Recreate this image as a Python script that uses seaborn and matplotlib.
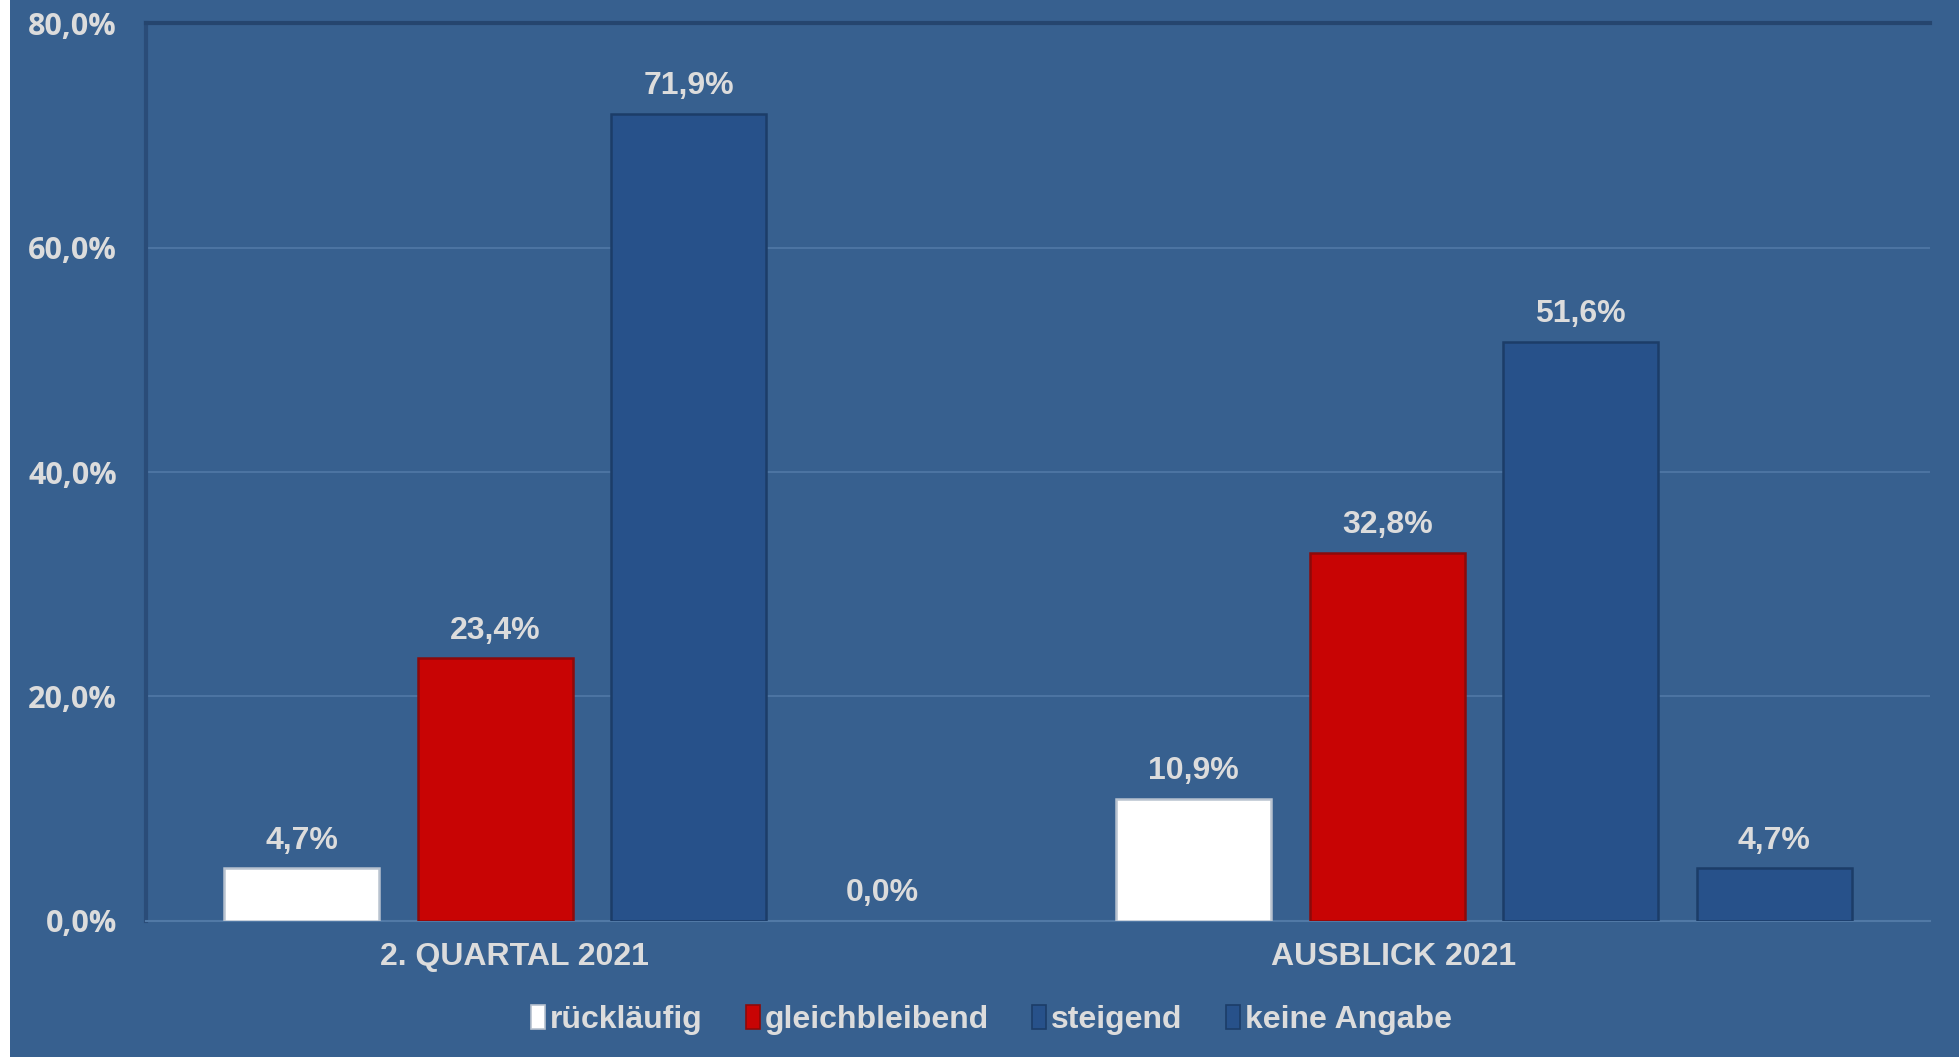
import matplotlib
matplotlib.use("Agg")
import matplotlib.pyplot as plt
import matplotlib.transforms as mtransforms
from matplotlib.patches import Rectangle
import seaborn as sns
import pandas as pd

# ---- data ----
categories = ["2. QUARTAL 2021", "AUSBLICK 2021"]
series = ["rückläufig", "gleichbleibend", "steigend", "keine Angabe"]
values_q2 = [4.7, 23.4, 71.9, 0.0]
values_outlook = [10.9, 32.8, 51.6, 4.7]
y_ticks = [0, 20, 40, 60, 80]

rows = []
for cat, vals in zip(categories, [values_q2, values_outlook]):
    for s, v in zip(series, vals):
        rows.append({"Kategorie": cat, "Serie": s, "Wert": v})
df = pd.DataFrame(rows)

BG = "#37608f"
TXT = "#dcdcdc"
palette = {"rückläufig": "#ffffff", "gleichbleibend": "#c80404",
           "steigend": "#27518a", "keine Angabe": "#27518a"}
edges = {"rückläufig": "#b8c2cf", "gleichbleibend": "#8c0a0a",
         "steigend": "#1c3d68", "keine Angabe": "#1c3d68"}

sns.set_theme(style="white")
plt.rcParams['font.family'] = ['Liberation Sans', 'DejaVu Sans']

fig = plt.figure(figsize=(19.59, 10.57), dpi=100, facecolor=BG)
ax = fig.add_axes([0.0745, 0.1287, 0.9852 - 0.0745, 0.9782 - 0.1287])
ax.set_facecolor(BG)
fig.patches.append(Rectangle((0, 0), 10 / 1959, 1, transform=fig.transFigure,
                             facecolor="white", edgecolor="none", zorder=0))

sns.barplot(data=df, x="Kategorie", y="Wert", hue="Serie", order=categories,
            hue_order=series, palette=palette, width=0.868, gap=0.2,
            saturation=1, ax=ax, legend=True, zorder=3)

for cont, s in zip(ax.containers, series):
    for p, v in zip(cont.patches, cont.datavalues):
        p.set_edgecolor(edges[s])
        p.set_linewidth(1.8 if v > 0 else 0)
    ax.bar_label(cont, labels=[f"{v:.1f}".replace(".", ",") + "%" for v in cont.datavalues],
                 padding=9, color=TXT, fontsize=23, fontweight="bold",
                 family=['Liberation Sans', 'DejaVu Sans'])

ax.set_ylim(0, 80)
ax.set_xlim(-0.5, 1.5)
ax.set_yticks(y_ticks)
ax.set_yticklabels([f"{t:.1f}".replace(".", ",") + "%" for t in y_ticks],
                   family=['Open Sans', 'DejaVu Sans'], fontweight="bold",
                   fontsize=22, color=TXT)
ax.tick_params(axis="y", length=0, pad=21)
ax.tick_params(axis="x", length=0, pad=15)
ax.set_xticks([0, 1])
ax.set_xticklabels(categories, fontsize=23, fontweight="bold", color=TXT,
                   family=['Liberation Sans', 'DejaVu Sans'])
for lbl, dx in zip(ax.get_xticklabels(), [-78, -90]):
    lbl.set_transform(lbl.get_transform() +
                      mtransforms.ScaledTranslation(dx / 100, 0, fig.dpi_scale_trans))
ax.set_xlabel("")
ax.set_ylabel("")
ax.yaxis.grid(True, color="#5179a6", linewidth=1.2, zorder=0)
ax.xaxis.grid(False)
ax.set_axisbelow(True)

ax.spines["right"].set_visible(False)
ax.spines["top"].set_color("#25456e")
ax.spines["top"].set_linewidth(3)
ax.spines["left"].set_color("#2a4c78")
ax.spines["left"].set_linewidth(3)
ax.spines["bottom"].set_color("#5179a6")
ax.spines["bottom"].set_linewidth(1.5)

handles, labels = ax.get_legend_handles_labels()
ax.get_legend().remove()
for h, s in zip(handles, series):
    h.set_edgecolor(edges[s])
    h.set_linewidth(1.2)
leg = fig.legend(handles, labels, loc="center", bbox_to_anchor=(0.506, 1 - 1020 / 1057),
                 ncol=4, frameon=False, handlelength=0.45, handleheight=0.8,
                 handletextpad=0.15, columnspacing=1.35,
                 prop={"family": ['Liberation Sans', 'DejaVu Sans'], "weight": "bold", "size": 23})
for t in leg.get_texts():
    t.set_color(TXT)

fig.savefig("out.png", dpi=100, facecolor=BG)
